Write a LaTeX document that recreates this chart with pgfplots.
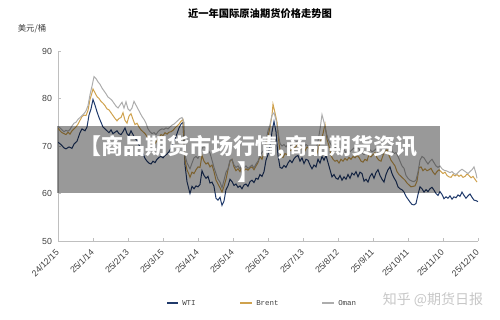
\documentclass[border=0pt]{standalone}
\usepackage{fontspec}
\usepackage{pgfplots}
\pgfplotsset{compat=1.18}
\setmainfont{Liberation Sans}
\newfontfamily\cjk{Noto Sans CJK SC}
\newfontfamily\legfont{Liberation Mono}

\definecolor{wticol}{HTML}{203A6B}
\definecolor{brentcol}{HTML}{CFA24E}
\definecolor{omancol}{HTML}{ADADAD}
\definecolor{axcol}{HTML}{BFBFBF}
\definecolor{labcol}{HTML}{404040}

% x runs over trading days, scaled so that each month tick sits 35 units apart
\pgfplotstableread{
x y
0 70.8
3 70.3
6 69.6
8 69.4
11 69.8
14 69.5
16 70.4
19 71.0
22 72.8
24 73.6
27 73.2
29 74.0
31 76.5
33 77.8
35 79.8
37 78.6
39 77.2
41 76.0
43 75.0
45 74.0
47 73.6
49 73.2
51 72.8
53 73.4
55 72.6
57 72.9
59 73.2
61 72.6
63 72.4
65 73.0
67 73.8
69 72.6
71 72.2
73 73.2
75 72.4
77 71.6
79 71.2
81 70.2
83 69.4
85 68.4
87 67.4
89 66.8
91 66.4
93 66.2
95 66.8
97 66.5
99 67.2
101 67.6
103 67.8
105 67.5
107 68.0
109 68.3
111 68.8
113 69.5
115 70.5
117 71.5
119 72.6
121 73.8
123 74.6
125 75.0
127 66.0
129 62.5
131 60.8
132 60.0
134 61.5
136 61.0
138 61.6
140 61.4
142 61.9
144 64.8
146 63.8
148 63.2
150 63.6
152 62.2
154 62.4
156 61.5
158 59.0
160 58.6
162 59.2
164 57.5
166 58.4
168 60.8
170 61.6
172 63.0
174 62.5
176 61.7
178 62.0
180 61.3
182 61.6
184 61.0
186 61.8
188 62.0
190 61.5
192 62.5
194 62.8
196 62.3
198 63.2
200 63.0
202 64.0
204 63.6
206 64.6
208 67.0
210 68.2
212 70.0
214 73.0
216 75.2
218 73.0
220 68.0
222 65.5
224 65.3
226 65.9
228 65.5
230 66.4
232 67.0
234 66.5
236 67.3
238 67.8
240 68.0
242 66.8
244 67.5
246 66.3
248 67.2
250 67.0
252 66.0
254 65.2
256 66.0
258 65.6
260 67.2
262 66.4
264 67.8
266 67.0
268 68.0
270 66.5
272 65.0
274 63.5
276 64.0
278 63.2
280 63.0
282 63.8
284 62.8
286 63.5
288 63.0
290 64.0
292 63.2
294 64.3
296 63.9
298 64.6
300 63.5
302 64.5
304 64.2
306 62.6
308 63.0
310 62.4
312 63.6
314 64.2
316 63.2
318 64.4
320 65.0
322 63.8
324 63.0
326 62.4
328 64.0
330 65.0
332 65.6
334 64.2
336 63.3
338 62.6
340 61.4
342 61.0
344 60.8
346 60.3
348 59.4
350 58.8
352 58.2
354 57.7
356 57.6
358 57.9
360 59.8
362 61.4
364 61.0
366 60.3
368 60.8
370 60.4
372 61.0
374 61.3
376 60.7
378 60.0
380 59.6
382 60.4
384 59.8
386 58.9
388 59.3
390 59.0
392 59.5
394 58.8
396 59.3
398 59.1
400 59.7
402 59.4
404 60.3
406 59.6
408 59.0
410 59.5
412 59.9
414 59.2
416 58.6
418 58.5
420 58.3
}\wti

\pgfplotstableread{
x y
0 73.8
2 73.2
4 72.8
6 72.6
8 72.4
10 72.9
12 72.5
14 73.2
16 73.6
18 74.0
20 74.6
22 75.4
24 76.2
26 76.5
28 76.4
30 77.5
32 79.8
34 81.2
35 82.0
37 81.2
39 80.4
41 80.0
43 79.4
45 79.0
47 78.5
49 77.8
51 77.6
53 77.0
55 76.4
57 75.8
59 75.3
61 75.8
63 76.0
65 77.0
67 75.4
69 74.8
71 76.3
73 76.8
75 75.6
77 74.5
79 74.8
81 74.0
83 73.4
85 73.0
87 72.6
89 72.0
91 71.2
93 70.6
95 70.9
97 70.5
99 71.2
101 71.8
103 72.4
105 72.2
107 72.8
109 72.5
111 72.9
113 73.0
115 73.3
117 73.8
119 74.2
121 74.6
123 75.2
125 75.6
127 67.0
129 65.0
131 64.0
132 63.4
134 64.5
136 64.2
138 65.0
140 65.6
142 65.5
144 68.0
146 66.8
148 66.2
150 66.5
152 65.6
154 66.0
156 64.6
158 62.8
160 62.0
162 61.2
164 60.3
166 61.5
168 63.0
170 65.0
172 66.8
174 67.2
176 65.6
178 64.8
180 65.2
182 64.6
184 65.8
186 64.8
188 65.2
190 64.9
192 65.4
194 65.6
196 65.0
198 65.8
200 66.5
202 67.8
204 67.2
206 68.6
208 70.5
210 72.0
212 74.0
214 76.5
215 78.8
217 77.0
219 75.0
221 70.5
223 67.8
225 67.6
227 68.4
229 68.2
231 69.2
233 69.0
235 70.0
237 69.6
239 70.2
241 70.6
243 69.4
245 70.2
247 69.0
249 69.8
251 69.5
253 68.6
255 68.2
257 68.8
259 68.4
261 70.0
263 71.2
265 72.6
267 74.6
269 71.4
271 70.0
273 68.0
275 67.2
277 66.8
279 67.0
281 66.4
283 67.2
285 66.8
287 67.4
289 67.0
291 67.6
293 67.2
295 67.8
297 67.5
299 68.0
301 67.6
303 66.8
305 66.6
307 67.2
309 66.9
311 68.2
313 67.7
315 68.2
317 68.6
319 67.5
321 67.0
323 66.8
325 68.0
327 68.8
329 69.2
331 68.0
333 67.0
335 66.4
337 65.8
339 64.6
341 64.0
343 63.6
345 63.2
347 62.8
349 62.2
351 61.8
353 61.4
355 61.5
357 61.6
359 62.6
361 65.4
363 65.6
365 64.8
367 65.2
369 64.8
371 65.0
373 65.3
375 64.5
377 64.0
379 64.6
381 65.0
383 64.6
385 64.2
387 64.5
389 63.8
391 63.5
393 63.4
395 64.0
397 63.7
399 64.0
401 63.6
403 63.9
405 63.4
407 63.6
409 64.1
411 63.8
413 63.3
415 63.6
417 63.0
419 62.4
}\brent

\pgfplotstableread{
x y
0 74.2
2 73.8
4 73.4
6 73.0
8 73.3
10 73.1
12 73.5
14 74.2
16 74.8
18 75.0
20 75.6
22 76.0
24 76.4
26 76.8
28 77.4
30 78.5
32 80.8
34 82.6
36 84.6
38 84.2
40 83.5
42 83.0
44 82.2
46 81.6
48 81.0
50 80.3
52 80.0
54 79.6
56 79.0
58 78.4
60 78.0
62 78.6
64 79.2
66 78.0
68 79.3
70 77.8
72 77.4
74 78.0
76 79.4
78 78.6
80 77.8
82 77.0
84 76.2
86 75.6
88 74.8
90 73.6
92 73.0
94 72.6
96 72.8
98 72.4
100 73.0
102 73.4
104 73.6
106 73.5
108 73.8
110 73.6
112 74.0
114 74.4
116 74.6
118 75.0
120 75.4
122 75.8
124 76.0
126 75.0
127 68.0
129 66.5
131 65.6
132 65.2
134 66.4
136 67.5
138 67.8
140 67.4
142 68.2
144 69.5
146 70.0
148 69.5
150 69.2
152 68.5
154 67.0
156 65.5
158 64.2
160 63.0
162 62.4
164 61.2
166 62.8
168 64.5
170 65.2
172 67.0
174 67.2
176 66.0
178 65.5
180 65.8
182 65.2
184 66.0
186 65.4
188 65.8
190 65.3
192 65.6
194 66.0
196 65.4
198 66.2
200 66.8
202 68.0
204 68.6
206 69.2
208 71.0
210 73.2
212 74.5
214 76.5
216 77.0
218 75.5
220 73.0
222 70.5
224 70.0
226 70.3
228 69.8
230 70.4
232 70.0
234 70.6
236 70.2
238 70.8
240 71.0
242 70.2
244 70.6
246 69.8
248 70.3
250 70.0
252 69.4
254 69.0
256 69.5
258 69.2
260 71.0
262 73.5
264 76.6
266 75.0
268 73.0
270 71.5
272 70.6
274 70.0
276 69.5
278 69.8
280 69.2
282 69.5
284 68.8
286 69.2
288 68.6
290 69.4
292 68.8
294 69.2
296 69.6
298 69.3
300 69.8
302 69.0
304 68.6
306 68.2
308 68.6
310 68.3
312 69.2
314 68.8
316 69.0
318 69.4
320 68.5
322 68.6
324 68.2
326 68.8
328 69.4
330 70.0
332 70.2
334 69.0
336 68.4
338 68.6
340 67.8
342 66.8
344 65.8
346 65.3
348 63.8
350 63.2
352 62.8
354 62.6
356 62.5
358 62.8
360 64.5
362 67.0
364 67.8
366 67.5
368 66.8
370 66.2
372 66.8
374 67.2
376 66.5
378 65.8
380 65.5
382 65.8
384 65.2
386 64.9
388 64.8
390 64.6
392 64.4
394 64.6
396 64.2
398 64.0
400 64.4
402 64.8
404 65.1
406 64.8
408 64.5
410 64.2
412 64.6
414 65.0
416 65.6
418 64.2
419 63.2
}\oman

\begin{document}
\begin{tikzpicture}[x=0.75pt, y=0.75pt]
\path[use as bounding box] (0,0) rectangle (500,320);

\begin{axis}[
  at={(43.5pt,59.25pt)}, anchor=south west,
  scale only axis, width=315pt, height=142.5pt,
  xmin=0, xmax=420, ymin=50, ymax=90,
  axis x line*=bottom, axis y line*=left,
  axis line style={axcol, line width=0.6pt, -},
  tick align=inside, major tick length=2.2pt,
  tick style={axcol, line width=0.6pt},
  xtick={0,35,...,420},
  xticklabels={24/12/15,25/1/14,25/2/13,25/3/15,25/4/14,25/5/14,25/6/13,25/7/13,25/8/12,25/9/11,25/10/11,25/11/10,25/12/10},
  ytick={50,60,70,80,90},
  /pgf/number format/assume math mode=true,
  ticklabel style={font=\fontsize{6.6}{7}\selectfont, text=labcol},
  xticklabel style={xshift=2pt, yshift=-5pt, rotate=45, anchor=east},
  yticklabel style={xshift=-1pt},
]
\addplot[wticol, line width=0.75pt] table[x=x, y=y] {\wti};
\addplot[brentcol, line width=0.75pt] table[x=x, y=y] {\brent};
\addplot[omancol, line width=0.75pt] table[x=x, y=y] {\oman};
\end{axis}

% title and unit
\node[font=\cjk\bfseries\fontsize{7.7}{8}\selectfont, text=black] at (260,306) {近一年国际原油期货价格走势图};
\node[font=\cjk\fontsize{6.3}{7}\selectfont, text=labcol] at (32,291) {美元/桶};

% legend
\draw[wticol, line width=0.8pt] (167,17) -- (178,17);
\node[font=\legfont\fontsize{5.6}{6}\selectfont, anchor=west, inner sep=0pt, text=labcol] at (182,17) {WTI};
\draw[brentcol, line width=0.8pt] (240,17) -- (252,17);
\node[font=\legfont\fontsize{5.6}{6}\selectfont, anchor=west, inner sep=0pt, text=labcol] at (256,17) {Brent};
\draw[omancol, line width=0.8pt] (322,17) -- (334,17);
\node[font=\legfont\fontsize{5.6}{6}\selectfont, anchor=west, inner sep=0pt, text=labcol] at (338,17) {Oman};

% watermark
\node[font=\cjk\fontsize{10.5}{11}\selectfont, text=black!22] at (433,20) {知乎 @期货日报};

% caption banner
\fill[black, opacity=0.4] (57,127) rectangle (440,194);
\node[font=\cjk\bfseries\fontsize{16.5}{19.5}\selectfont, text=white, align=center] at (248.5,160.5) {【商品期货市场行情,商品期货资讯\\】};
\end{tikzpicture}
\end{document}
